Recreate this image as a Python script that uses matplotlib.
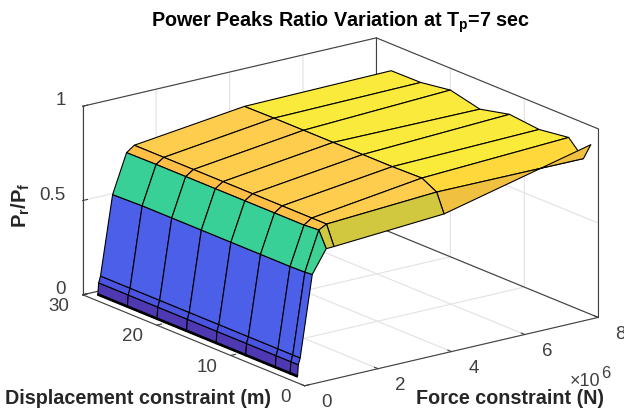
import numpy as np
import matplotlib
matplotlib.use('Agg')
import matplotlib.pyplot as plt
from matplotlib.colors import LinearSegmentedColormap, Normalize

plt.rcParams['font.family'] = ['Liberation Sans', 'DejaVu Sans']
plt.rcParams['mathtext.fontset'] = 'custom'
plt.rcParams['mathtext.rm'] = 'Liberation Sans'
plt.rcParams['mathtext.bf'] = 'Liberation Sans:bold'

# force constraint in units of 1e6 N
force = [0.002, 0.005, 0.01, 0.03, 0.08, 0.41, 0.79, 1.0, 4.0, 8.0]
displacement = [1, 2, 4, 8, 12, 16, 20, 24, 28]

ratio = [
    [0.030, 0.034, 0.038, 0.094, 0.128, 0.556, 0.675, 0.677, 0.714, 0.900],
    [0.030, 0.034, 0.038, 0.094, 0.128, 0.552, 0.758, 0.780, 0.814, 0.810],
    [0.030, 0.034, 0.038, 0.094, 0.128, 0.550, 0.752, 0.780, 0.856, 0.890],
    [0.030, 0.034, 0.038, 0.094, 0.128, 0.550, 0.752, 0.780, 0.852, 0.868],
    [0.030, 0.034, 0.038, 0.094, 0.128, 0.550, 0.752, 0.780, 0.852, 0.884],
    [0.030, 0.034, 0.038, 0.094, 0.128, 0.550, 0.752, 0.780, 0.852, 0.847],
    [0.030, 0.034, 0.038, 0.094, 0.128, 0.550, 0.752, 0.780, 0.852, 0.884],
    [0.030, 0.034, 0.038, 0.094, 0.128, 0.550, 0.752, 0.780, 0.852, 0.860],
    [0.030, 0.034, 0.038, 0.094, 0.128, 0.545, 0.750, 0.780, 0.850, 0.858],
]

# parula-like colours as they look in the picture
color_z = [0.03, 0.06, 0.094, 0.128, 0.55, 0.675, 0.714, 0.75, 0.78, 0.814, 0.85, 0.9]
color_rgb = ['#4e38b0', '#4e3cbe', '#4b55e1', '#4b5fe8', '#38d098', '#d0c840',
             '#f0c040', '#ffbe46', '#ffcd4d', '#ffd93c', '#faea3c', '#faf032']

X, Y = np.meshgrid(force, displacement)
Z = np.array(ratio)

norm = Normalize(0.03, 0.9)
cmap = LinearSegmentedColormap.from_list('surf', [((z - 0.03) / 0.87, c) for z, c in zip(color_z, color_rgb)], N=512)

fig = plt.figure(figsize=(6.24, 4.13), dpi=100)
ax = fig.add_axes([0.042, -0.011, 0.99, 0.97], projection='3d', proj_type='ortho')
ax.computed_zorder = False
ax.view_init(elev=18, azim=-127)
ax.set_box_aspect((369, 370, 199), zoom=1.35)

ax.set_xlim(0, 8, view_margin=0)
ax.set_ylim(0, 30, view_margin=0)
ax.set_zlim(0, 1, view_margin=0)

# back edges of the box
for xs, ys, zs in [([0, 8], [30, 30], [1, 1]), ([8, 8], [30, 0], [1, 1]),
                   ([8, 8], [30, 30], [0, 1]), ([8, 8], [0, 0], [0, 1]),
                   ([0, 8], [30, 30], [0, 0]), ([8, 8], [30, 0], [0, 0])]:
    ax.plot(xs, ys, zs, color='#404040', lw=0.8, zorder=1, clip_on=False)

surf = ax.plot_surface(X, Y, Z, rstride=1, cstride=1, facecolors=cmap(norm(Z)), shade=False,
                       edgecolor='black', linewidth=0.8, zorder=2)
surf.set_clip_on(False)

ax.set_xticks([0, 2, 4, 6, 8])
ax.set_yticks([0, 10, 20, 30])
ax.set_zticks([0, 0.5, 1])
ax.set_zticklabels(['0', '0.5', '1'])
ax.tick_params(labelsize=13.5, colors='#404040')
ax.tick_params(axis='x', pad=3.5)
ax.tick_params(axis='y', pad=-1.15)
ax.tick_params(axis='z', pad=-3)
for axis in (ax.xaxis, ax.yaxis, ax.zaxis):
    axis.set_pane_color((1, 1, 1, 0))
    axis.pane.set_edgecolor((1, 1, 1, 0))
    axis.line.set_color('#404040')
    axis.line.set_linewidth(0.8)
    axis._axinfo['grid']['color'] = '#e2e2e2'
    axis._axinfo['grid']['linewidth'] = 0.8
    axis._axinfo['tick']['inward_factor'] = 0.0
    axis._axinfo['tick']['outward_factor'] = 0.2

plt.setp(ax.get_xticklabels(), ha='left', va='baseline')
plt.setp(ax.get_yticklabels(), ha='right', va='center')
plt.setp(ax.get_zticklabels(), ha='right', va='baseline')

fig.text(0.546, 0.947, r'Power Peaks Ratio Variation at T$_{\mathbf{p}}$=7 sec', ha='center', va='center',
         fontsize=14.2, fontweight='bold', color='black')
fig.text(0.008, 0.035, 'Displacement constraint (m)', ha='left', va='center',
         fontsize=14.2, fontweight='bold', color='#262626')
fig.text(0.667, 0.035, 'Force constraint (N)', ha='left', va='center',
         fontsize=14.2, fontweight='bold', color='#262626')
fig.text(0.034, 1 - 205 / 413, r'$\mathbf{P}_{\mathbf{r}}\mathbf{/P}_{\mathbf{f}}$', rotation=90, ha='center', va='center',
         fontsize=14.5, color='#262626')
fig.text(570 / 624, 1 - 381 / 413, '\u00d710', ha='left', va='center', fontsize=13, color='#404040')
fig.text(601 / 624, 1 - 373 / 413, '6', ha='left', va='center', fontsize=12, color='#404040')

fig.savefig('out.png', dpi=100)
